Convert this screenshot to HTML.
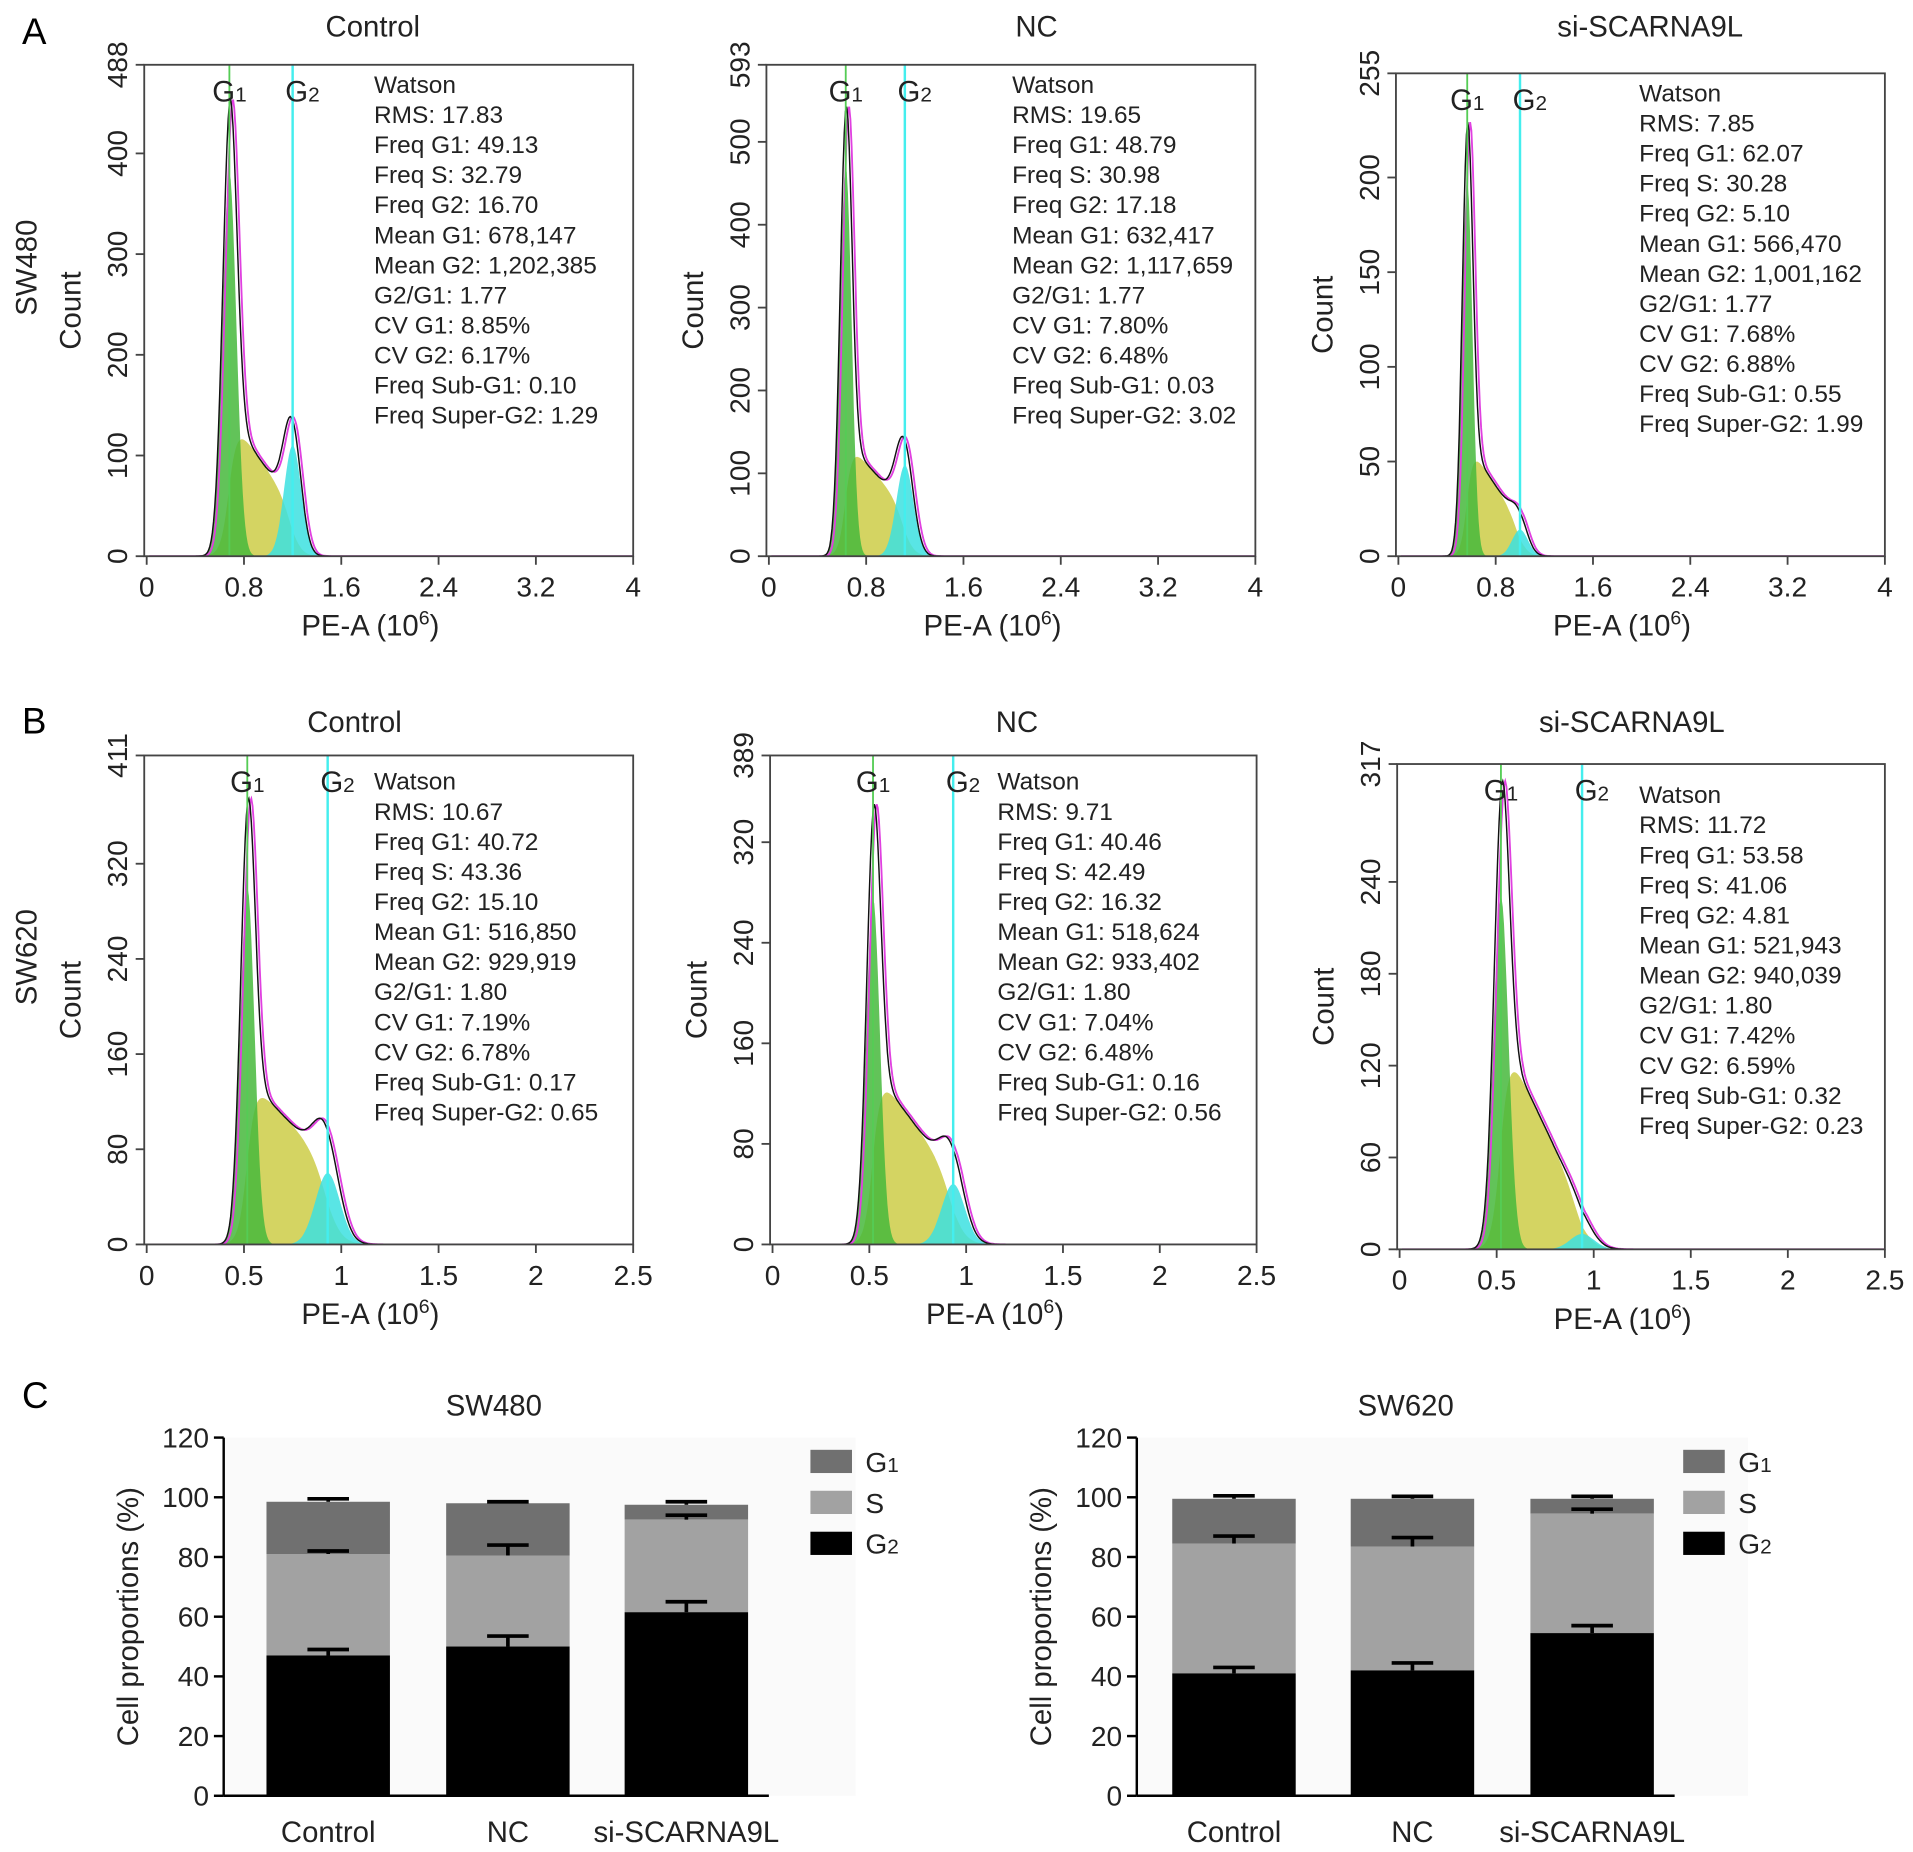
<!DOCTYPE html>
<html><head><meta charset="utf-8">
<style>
html,body{margin:0;padding:0;background:#fff;}
svg{display:block;font-family:"Liberation Sans",Arial,sans-serif;}
</style></head>
<body>
<svg id="fig" width="1913" height="1852" viewBox="0 0 1565 1515" preserveAspectRatio="none" xmlns="http://www.w3.org/2000/svg">
<text x="18" y="36" font-size="30">A</text>
<text x="18" y="600" font-size="30">B</text>
<text x="18" y="1152" font-size="30">C</text>
</svg>
<script>
// ---------- Histogram data (Watson model parameters) ----------
const histTitles = ["Control","NC","si-SCARNA9L","Control","NC","si-SCARNA9L"];
const histRowLabels = ["SW480","","","SW620","",""];
const histYMax = [488,593,255,411,389,317];
const histYTicks = [[0,100,200,300,400,488],[0,100,200,300,400,500,593],[0,50,100,150,200,255],[0,80,160,240,320,411],[0,80,160,240,320,389],[0,60,120,180,240,317]];
const histXMax = [4,4,4,2.5,2.5,2.5];
const histXTicksA = [0,0.8,1.6,2.4,3.2,4];
const histXTicksB = [0,0.5,1,1.5,2,2.5];
const g1Mean = [0.68,0.632,0.566,0.517,0.519,0.522];
const g1Sd = [0.058,0.048,0.043,0.037,0.036,0.039];
const g1Peak = [380,470,198,300,275,230];
const g2Mean = [1.20,1.118,1.0,0.93,0.933,0.94];
const g2Sd = [0.07,0.07,0.065,0.063,0.06,0.062];
const g2Peak = [110,110,14,60,48,10];
const sStart = [140,140,60,140,140,140];
const sEnd = [50,60,18,70,55,30];
const stats = [
 ["Watson","RMS: 17.83","Freq G1: 49.13","Freq S: 32.79","Freq G2: 16.70","Mean G1: 678,147","Mean G2: 1,202,385","G2/G1: 1.77","CV G1: 8.85%","CV G2: 6.17%","Freq Sub-G1: 0.10","Freq Super-G2: 1.29"],
 ["Watson","RMS: 19.65","Freq G1: 48.79","Freq S: 30.98","Freq G2: 17.18","Mean G1: 632,417","Mean G2: 1,117,659","G2/G1: 1.77","CV G1: 7.80%","CV G2: 6.48%","Freq Sub-G1: 0.03","Freq Super-G2: 3.02"],
 ["Watson","RMS: 7.85","Freq G1: 62.07","Freq S: 30.28","Freq G2: 5.10","Mean G1: 566,470","Mean G2: 1,001,162","G2/G1: 1.77","CV G1: 7.68%","CV G2: 6.88%","Freq Sub-G1: 0.55","Freq Super-G2: 1.99"],
 ["Watson","RMS: 10.67","Freq G1: 40.72","Freq S: 43.36","Freq G2: 15.10","Mean G1: 516,850","Mean G2: 929,919","G2/G1: 1.80","CV G1: 7.19%","CV G2: 6.78%","Freq Sub-G1: 0.17","Freq Super-G2: 0.65"],
 ["Watson","RMS: 9.71","Freq G1: 40.46","Freq S: 42.49","Freq G2: 16.32","Mean G1: 518,624","Mean G2: 933,402","G2/G1: 1.80","CV G1: 7.04%","CV G2: 6.48%","Freq Sub-G1: 0.16","Freq Super-G2: 0.56"],
 ["Watson","RMS: 11.72","Freq G1: 53.58","Freq S: 41.06","Freq G2: 4.81","Mean G1: 521,943","Mean G2: 940,039","G2/G1: 1.80","CV G1: 7.42%","CV G2: 6.59%","Freq Sub-G1: 0.32","Freq Super-G2: 0.23"]
];
// ---------- Bar chart data ----------
const barCats = ["Control","NC","si-SCARNA9L"];
const barTitles = ["SW480","SW620"];
const legendLabels = ["G1","S","G2"];
const g2Vals = [[47,50,61.5],[41,42,54.5]];
const sVals = [[34,30.5,31],[43.5,41.5,40]];
const g1Vals = [[17.5,17.5,5],[15,16,5]];
const g2Err = [[2,3.5,3.5],[2,2.5,2.5]];
const sErr = [[1,3.5,1.5],[2.5,3,1.5]];
const g1Err = [[1,0.5,1],[1,0.8,0.8]];
const barTicks = [0,20,40,60,80,100,120];

const NS="http://www.w3.org/2000/svg";
const svg=document.getElementById('fig');
function mk(tag,attrs,parent){const e=document.createElementNS(NS,tag);for(const k in attrs)e.setAttribute(k,attrs[k]);(parent||svg).appendChild(e);return e;}
function txt(x,y,s,size,parent,extra){const t=mk('text',Object.assign({x:x,y:y,'font-size':size,fill:'#222'},extra||{}),parent);t.textContent=s;return t;}

const boxes=[{x:118,y:53,w:400,h:402},{x:627,y:53,w:400,h:402},{x:1142,y:60,w:400,h:395},{x:118,y:618,w:400,h:400},{x:630,y:618,w:398,h:400},{x:1143,y:625,w:399,h:397}];
const statPos=[[306,76],[828,76],[1341,83],[306,646],[816,646],[1341,657]];
const titleX=[305,848,1350,290,832,1335];
const titleY=[30,30,30,599,599,599];
const defs=mk('defs',{},svg);

function gauss(x,m,s){return Math.exp(-0.5*((x-m)/s)*((x-m)/s));}
function sComp(i,x){const a=g1Mean[i],b=g2Mean[i];const t=(x-a)/(b-a);
  const lvl=sStart[i]+(sEnd[i]-sStart[i])*Math.min(Math.max(t,0),1);
  const up=1/(1+Math.exp(-(x-a)/(g1Sd[i]*0.6)));const dn=1/(1+Math.exp((x-b)/(g2Sd[i]*0.6)));return lvl*up*dn;}

for(let i=0;i<6;i++){
  const b=boxes[i];
  const cp=mk('clipPath',{id:'clip'+i},defs);mk('rect',{x:b.x,y:b.y,width:b.w,height:b.h},cp);
  const g=mk('g',{},svg);
  
  
  const pg=mk('g',{'clip-path':'url(#clip'+i+')'},g);
  const X=v=>b.x+2+v/histXMax[i]*(b.w-2);
  const Y=v=>b.y+b.h-v/histYMax[i]*b.h;
  const tt=txt(titleX[i],titleY[i],histTitles[i],24,g,{'text-anchor':'middle'});
  
  const N=400, xs=[];for(let k=0;k<=N;k++)xs.push(histXMax[i]*k/N);
  function area(fn,fill,name){let d='M'+X(0)+','+Y(0);xs.forEach(x=>{d+=' L'+X(x).toFixed(1)+','+Y(fn(x)).toFixed(1);});d+=' L'+X(histXMax[i])+','+Y(0)+'Z';
    const p=mk('path',{d:d,fill:fill,stroke:'none'},pg);}
  area(x=>sComp(i,x),'rgba(205,205,70,0.85)','s-phase-fill');
  area(x=>g1Peak[i]*gauss(x,g1Mean[i],g1Sd[i]),'rgba(70,185,60,0.85)','g1-fill');
  area(x=>g2Peak[i]*gauss(x,g2Mean[i],g2Sd[i]),'rgba(60,225,225,0.85)','g2-fill');
  const tot=x=>g1Peak[i]*gauss(x,g1Mean[i],g1Sd[i])+g2Peak[i]*gauss(x,g2Mean[i],g2Sd[i])+sComp(i,x);
  let d='';xs.forEach((x,k)=>{d+=(k?' L':'M')+X(x).toFixed(1)+','+Y(tot(x)).toFixed(1);});
  const fit=mk('path',{d:d,fill:'none',stroke:'#e040e0','stroke-width':1.5,transform:'translate(2,0)'},pg);
  
  const dl=mk('path',{d:d,fill:'none',stroke:'#111','stroke-width':1.2},pg);
  
  const l1=mk('line',{x1:X(g1Mean[i]),x2:X(g1Mean[i]),y1:b.y,y2:b.y+b.h,stroke:'#5c5','stroke-width':1.5},g);
  
  const l2=mk('line',{x1:X(g2Mean[i]),x2:X(g2Mean[i]),y1:b.y,y2:b.y+b.h,stroke:'#4ee','stroke-width':2},g);
  
  const gl1=txt(X(g1Mean[i])-14,b.y+30,'G',24,g);gl1.innerHTML='G<tspan font-size="17">1</tspan>';
  
  const gl2=txt(X(g2Mean[i])-6,b.y+30,'G',24,g);gl2.innerHTML='G<tspan font-size="17">2</tspan>';
  
  const fr=mk('rect',{x:b.x,y:b.y,width:b.w,height:b.h,fill:'none',stroke:'#444','stroke-width':1.5},g);
  
  histYTicks[i].forEach(v=>{mk('line',{x1:b.x-7,x2:b.x,y1:Y(v),y2:Y(v),stroke:'#444','stroke-width':1.5},g);
    const t=txt(b.x-14,Y(v),String(v),23,g,{'text-anchor':'middle',transform:'rotate(-90 '+(b.x-14)+' '+Y(v)+')'});
    });
  const yl=txt(b.x-52,b.y+b.h/2,'Count',24,g,{'text-anchor':'middle',transform:'rotate(-90 '+(b.x-52)+' '+(b.y+b.h/2)+')'});
  
  if(histRowLabels[i]){const r=txt(30,b.y+b.h/2-35,histRowLabels[i],24,g,{'text-anchor':'middle',transform:'rotate(-90 30 '+(b.y+b.h/2-35)+')'});
    }
  const xt=i<3?histXTicksA:histXTicksB;
  xt.forEach(v=>{mk('line',{x1:X(v),x2:X(v),y1:b.y+b.h,y2:b.y+b.h+7,stroke:'#444','stroke-width':1.5},g);
    const t=txt(X(v),b.y+b.h+33,String(v),23,g,{'text-anchor':'middle'});
    });
  const xl=txt(b.x+b.w/2-15,b.y+b.h+65,'',24,g,{'text-anchor':'middle'});
  xl.innerHTML='PE-A (10<tspan font-size="16" dy="-9">6</tspan><tspan dy="9">)</tspan>';
  
  const sg=mk('g',{},g);
  stats[i].forEach((s,k)=>{txt(statPos[i][0],statPos[i][1]+k*24.6,s,20,sg);});
}

// ---------- Bar charts ----------
const charts=[{ax:183,bars:[218,365,511],legX:663,title:404,bg:700},{ax:930,bars:[959,1105,1252],legX:1377,title:1150,bg:1430}];
const y0=1469, yTop=1176;
const BY=v=>y0-v/120*(y0-yTop);
const cols=['#707070','#a2a2a2','#000'];
charts.forEach((c,ci)=>{
  const g=mk('g',{},svg);
  
  
  mk('rect',{x:c.ax,y:yTop,width:c.bg-c.ax,height:y0-yTop,fill:'#fafafa'},g);
  const t=txt(c.title,1158,barTitles[ci],24,g,{'text-anchor':'middle'});
  
  barCats.forEach((cat,k)=>{
    const x=c.bars[k],w=101;
    const a=g2Vals[ci][k],s=sVals[ci][k],g1=g1Vals[ci][k];
    const r3=mk('rect',{x:x,y:BY(a+s+g1),width:w,height:BY(a+s)-BY(a+s+g1),fill:cols[0]},g);
    
    const r2=mk('rect',{x:x,y:BY(a+s),width:w,height:BY(a)-BY(a+s),fill:cols[1]},g);
    
    const r1=mk('rect',{x:x,y:BY(a),width:w,height:BY(0)-BY(a),fill:cols[2]},g);
    
    [[a,g2Err[ci][k]],[a+s,sErr[ci][k]],[a+s+g1,g1Err[ci][k]]].forEach(([v,e])=>{
      const cx=x+w/2;
      mk('line',{x1:cx,x2:cx,y1:BY(v),y2:BY(v+e),stroke:'#000','stroke-width':3},g);
      const cap=mk('line',{x1:cx-17,x2:cx+17,y1:BY(v+e),y2:BY(v+e),stroke:'#000','stroke-width':3},g);
      
    });
    const xl=txt(x+w/2,1507,cat,24,g,{'text-anchor':'middle'});
    
  });
  mk('line',{x1:c.ax,x2:c.ax,y1:yTop,y2:y0,stroke:'#000','stroke-width':2},g);
  mk('line',{x1:c.ax,x2:c.bars[2]+101+17,y1:y0,y2:y0,stroke:'#000','stroke-width':2},g);
  barTicks.forEach(v=>{mk('line',{x1:c.ax-8,x2:c.ax,y1:BY(v),y2:BY(v),stroke:'#000','stroke-width':2},g);
    const tl=txt(c.ax-12,BY(v)+8,String(v),23,g,{'text-anchor':'end'});
    });
  const yl=txt(c.ax-70,BY(60),'Cell proportions (%)',24,g,{'text-anchor':'middle',transform:'rotate(-90 '+(c.ax-70)+' '+BY(60)+')'});
  
  legendLabels.forEach((lab,k)=>{
    const ly=1186+k*33.5;
    const sw=mk('rect',{x:c.legX,y:ly,width:34,height:19,fill:cols[k]},g);
    
    const lt=txt(c.legX+45,ly+18,'',23,g);
    lt.innerHTML=lab.charAt(0)+(lab.length>1?'<tspan font-size="17">'+lab.slice(1)+'</tspan>':'');
    
  });
});
</script>
</body></html>
